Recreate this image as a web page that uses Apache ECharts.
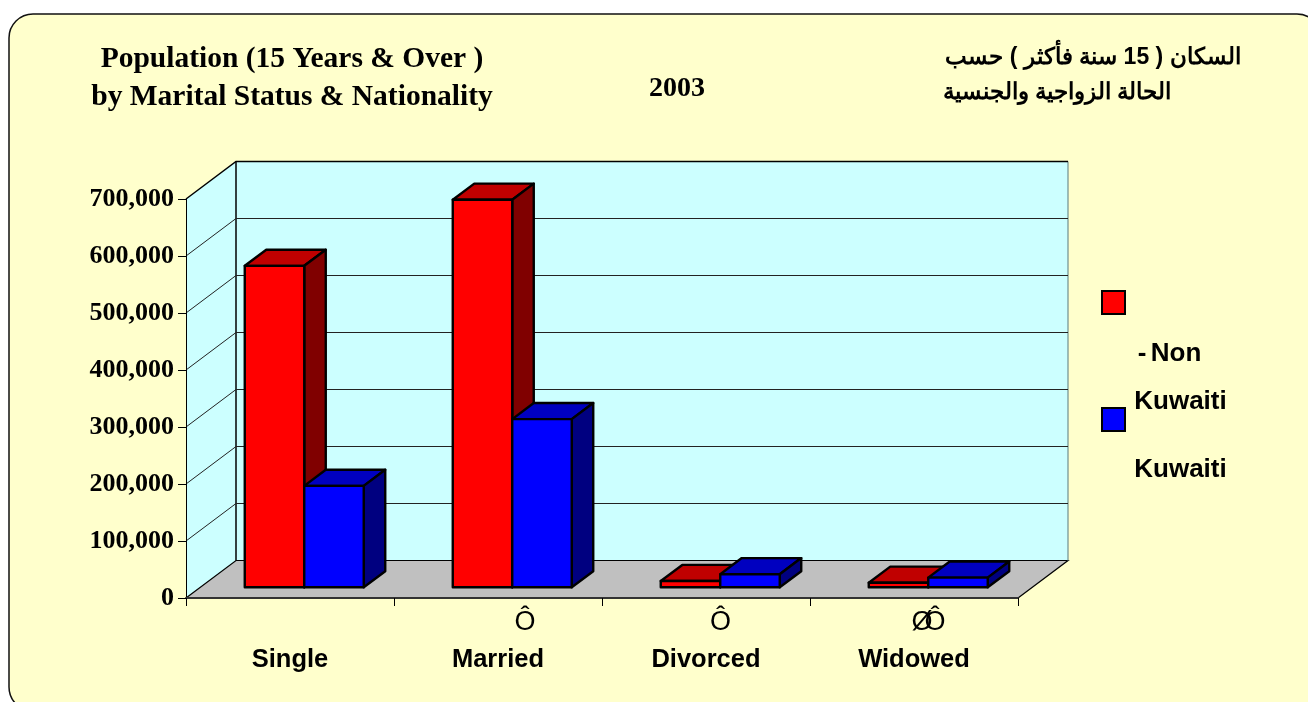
<!DOCTYPE html>
<html>
<head>
<meta charset="utf-8">
<style>html,body{margin:0;padding:0;background:#fff}#c{width:1308px;height:702px}</style>
<script src="https://cdn.jsdelivr.net/npm/echarts@6/dist/echarts.min.js"></script>
</head>
<body>
<div id="c"></div>
<script>
var categories = ['Single', 'Married', 'Divorced', 'Widowed'];
var nonKuwaiti = [564000, 680000, 11000, 8000];
var kuwaiti = [178000, 295000, 23000, 17000];
var valueTicks = [0, 100000, 200000, 300000, 400000, 500000, 600000, 700000];
var seriesNames = ['Non-Kuwaiti', 'Kuwaiti'];
var titleEnglish = 'Population (15 Years & Over )\nby Marital Status & Nationality';
var titleYear = '2003';
var titleArabic1 = 'السكان ( 15 سنة فأكثر ) حسب';
var titleArabic2 = 'الحالة الزواجية والجنسية';

var DX = 50, DY = -37.5;
var chart = echarts.init(document.getElementById('c'));

function catX(api, idx, frac) {
  var c = api.coord([idx, 0])[0];
  var band = api.size([1, 0])[0];
  return c - band / 2 + band * frac;
}
function poly(points, fill, lw) {
  return { type: 'polygon', shape: { points: points }, style: { fill: fill, stroke: '#000', lineWidth: lw, lineJoin: 'round' } };
}
function seg(points, color, lw) {
  return { type: 'polyline', shape: { points: points }, style: { fill: 'none', stroke: color, lineWidth: lw } };
}
function frameItem(params, api) {
  var v = api.value(0);
  var x0 = catX(api, 0, 0), x1 = catX(api, 3, 1);
  var y = api.coord([0, v])[1];
  var ymax = api.coord([0, 700000])[1], y0 = api.coord([0, 0])[1];
  var kids = [];
  function flat(points, fill) { return { type: 'polygon', shape: { points: points }, style: { fill: fill, stroke: 'none' } }; }
  if (v === 0) {
    kids.push(flat([[x0 + DX, ymax + DY], [x1 + DX, ymax + DY], [x1 + DX, y0 + DY], [x0 + DX, y0 + DY]], '#CCFFFF'));
    kids.push(flat([[x0, ymax], [x0 + DX, ymax + DY], [x0 + DX, y0 + DY], [x0, y0]], '#CCFFFF'));
    kids.push(flat([[x0, y0], [x0 + DX, y0 + DY], [x1 + DX, y0 + DY], [x1, y0]], '#C0C0C0'));
    kids.push(seg([[x0, y0], [x0 + DX, y0 + DY], [x1 + DX, y0 + DY], [x1, y0]], '#000', 1.2));
    kids.push(seg([[x1 + DX, y0 + DY], [x1 + DX, ymax + DY]], '#6f8f90', 1.2));
    kids.push(seg([[x0 + DX, y0 + DY], [x0 + DX, ymax + DY]], '#000', 1.5));
    kids.push(seg([[x0, ymax], [x0 + DX, ymax + DY], [x1 + DX, ymax + DY]], '#000', 1.5));
  } else if (v < 700000) {
    kids.push(seg([[x0, y], [x0 + DX, y + DY], [x1 + DX, y + DY]], '#222', 1));
  }
  return { type: 'group', children: kids };
}
function barItem(slot, front, top, side) {
  return function (params, api) {
    var idx = api.value(0), val = api.value(1);
    var gapFrac = 0.214, wFrac = (1 - 2 * gapFrac) / 2;
    var x0 = catX(api, idx, gapFrac + wFrac * slot), x1 = x0 + catX(api, idx, wFrac) - catX(api, idx, 0);
    var yb = api.coord([idx, 0])[1], yt = api.coord([idx, val])[1];
    var d0 = 0.285, d1 = 0.715;
    function P(x, y, d) { return [x + d * DX, y + d * DY]; }
    return { type: 'group', children: [
      poly([P(x0, yt, d0), P(x1, yt, d0), P(x1, yt, d1), P(x0, yt, d1)], top, 2.4),
      poly([P(x1, yb, d0), P(x1, yb, d1), P(x1, yt, d1), P(x1, yt, d0)], side, 2.4),
      poly([P(x0, yb, d0), P(x1, yb, d0), P(x1, yt, d0), P(x0, yt, d0)], front, 2.4)
    ] };
  };
}
function toData(arr) { return arr.map(function (v, i) { return [i, v]; }); }

var labelSans = { fontFamily: 'Liberation Sans', fontWeight: 'bold', fontSize: 26, fill: '#000' };
function txt(s, x, y, o) {
  return { type: 'text', z: 50, x: x, y: y, style: Object.assign({ text: s, textAlign: 'center', textVerticalAlign: 'middle' }, labelSans, o || {}) };
}
var garbled = { fontWeight: 'normal', fontSize: 27 };

chart.setOption({
  animation: false,
  backgroundColor: '#fff',
  grid: { left: 186, top: 199, width: 832, height: 399 },
  xAxis: {
    type: 'category', data: categories, boundaryGap: true, z: 5,
    axisLine: { lineStyle: { color: '#333', width: 2 } },
    axisTick: { show: true, length: 8, alignWithLabel: false, lineStyle: { color: '#000', width: 1 } },
    axisLabel: { margin: 49, color: '#000', fontFamily: 'Liberation Sans', fontWeight: 'bold', fontSize: 25.5, interval: 0 },
    splitLine: { show: false }
  },
  yAxis: {
    type: 'value', min: 0, max: 700000, interval: 100000, z: 5,
    axisLine: { show: true, lineStyle: { color: '#000', width: 1 } },
    axisTick: { show: true, length: 8, lineStyle: { color: '#000', width: 1 } },
    axisLabel: { margin: 12, color: '#000', fontFamily: 'Liberation Serif', fontWeight: 'bold', fontSize: 26, padding: [4, 0, 0, 0],
      formatter: function (v) { return v.toLocaleString('en-US'); } },
    splitLine: { show: false }
  },
  legend: {
    orient: 'vertical', left: 1101, top: 290, padding: 0, itemWidth: 23, itemHeight: 23, itemGap: 92, selectedMode: false,
    icon: 'rect', data: seriesNames, formatter: function () { return ' '; },
    itemStyle: { borderColor: '#000', borderWidth: 2 }
  },
  graphic: [
    { type: 'rect', z: -10, silent: true, shape: { x: 9, y: 14, width: 1312, height: 697, r: 24 }, style: { fill: '#FFFFCC', stroke: '#111', lineWidth: 1.5 } },
    txt(titleEnglish, 292, 78, { fontFamily: 'Liberation Serif', fontSize: 29.5, lineHeight: 38 }),
    txt(titleYear, 677, 89, { fontFamily: 'Liberation Serif', fontSize: 28 }),
    txt(titleArabic1, 1093, 58, { fontSize: 23 }),
    txt(titleArabic2, 1057, 93, { fontSize: 23 }),
    txt('Ô', 525, 623, garbled), txt('Ô', 720.5, 623, garbled), txt('Ø', 922, 623, garbled), txt('Ô', 935, 623, garbled),
    txt('-', 1142, 354), txt('Non', 1176, 354), txt('Kuwaiti', 1180.5, 402), txt('Kuwaiti', 1180.5, 470)
  ],
  series: [
    { type: 'custom', name: 'frame', silent: true, z: 1, coordinateSystem: 'cartesian2d', renderItem: frameItem,
      encode: { x: 1, y: 0 }, data: valueTicks.map(function (v) { return [v, 0]; }), clip: false },
    { type: 'custom', name: seriesNames[0], z: 3, renderItem: barItem(0, '#FF0000', '#C00000', '#800000'), itemStyle: { color: '#FF0000' },
      encode: { x: 0, y: 1 }, data: toData(nonKuwaiti), clip: false },
    { type: 'custom', name: seriesNames[1], z: 4, renderItem: barItem(1, '#0000FF', '#0000C0', '#000080'), itemStyle: { color: '#0000FF' },
      encode: { x: 0, y: 1 }, data: toData(kuwaiti), clip: false }
  ]
});
</script>
</body>
</html>
